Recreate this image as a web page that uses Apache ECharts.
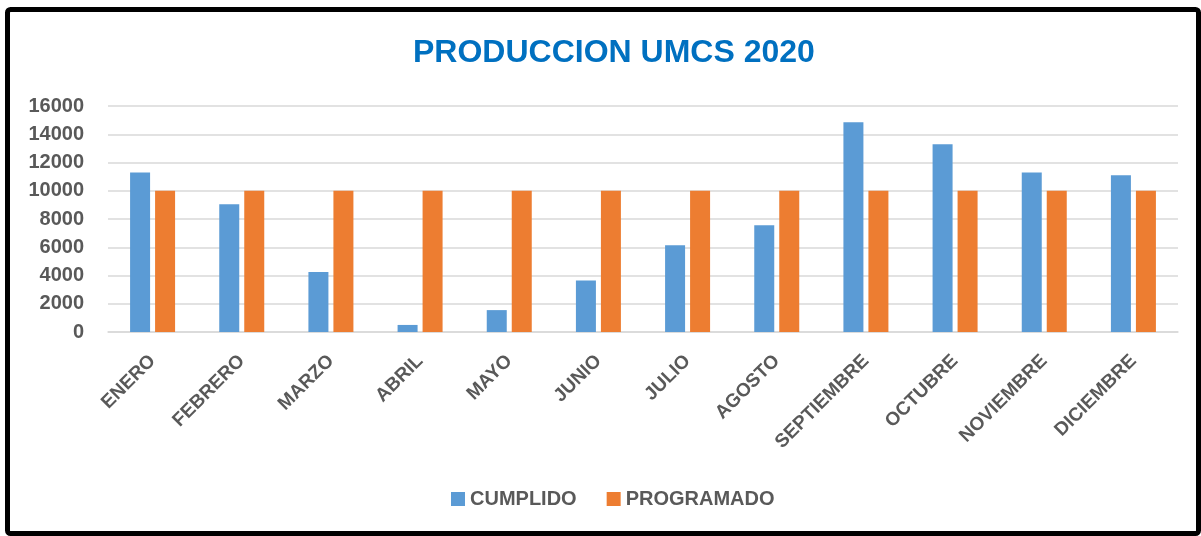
<!DOCTYPE html>
<html>
<head>
<meta charset="utf-8">
<title>PRODUCCION UMCS 2020</title>
<script src="https://cdn.jsdelivr.net/npm/echarts@6/dist/echarts.min.js"></script>
<style>
  html, body { margin: 0; padding: 0; background: #fff; }
  #chart { width: 1201px; height: 536px; }
</style>
</head>
<body>
<div id="chart"></div>
<script>
// meses
var meses = ['ENERO', 'FEBRERO', 'MARZO', 'ABRIL', 'MAYO', 'JUNIO', 'JULIO', 'AGOSTO', 'SEPTIEMBRE', 'OCTUBRE', 'NOVIEMBRE', 'DICIEMBRE'];
// valores
var cumplido = [11300, 9050, 4250, 500, 1550, 3650, 6150, 7550, 14850, 13300, 11300, 11100];
var programado = [10000, 10000, 10000, 10000, 10000, 10000, 10000, 10000, 10000, 10000, 10000, 10000];

var gris = '#595959';
var fuente = '"Liberation Sans", Arial, sans-serif';

var chart = echarts.init(document.getElementById('chart'));

chart.setOption({
  animation: false,
  textStyle: { fontFamily: fuente },
  color: ['#5B9BD5', '#ED7D31'],
  title: {
    text: 'PRODUCCION UMCS 2020',
    left: 408,
    top: 32,
    textStyle: { color: '#0070C0', fontSize: 32, fontWeight: 'bold', fontFamily: fuente }
  },
  // marco negro del grafico
  graphic: [{
    type: 'rect',
    left: 5,
    top: 7,
    shape: { width: 1191, height: 524, r: 3 },
    style: { fill: 'none', stroke: '#000', lineWidth: 5 },
    silent: true
  }],
  legend: {
    data: ['CUMPLIDO', 'PROGRAMADO'],
    left: 446,
    top: 484,
    icon: 'rect',
    itemWidth: 14,
    itemHeight: 14,
    itemGap: 30,
    textStyle: { color: gris, fontSize: 20, fontWeight: 'bold', fontFamily: fuente }
  },
  grid: {
    left: 108,
    right: 23,
    top: 106,
    bottom: 204
  },
  xAxis: {
    type: 'category',
    data: meses,
    axisTick: { show: false },
    axisLine: { lineStyle: { color: '#D9D9D9', width: 1.5 } },
    axisLabel: {
      rotate: 45,
      margin: 26,
      color: gris,
      fontSize: 19,
      fontWeight: 'bold',
      fontFamily: fuente
    }
  },
  yAxis: {
    type: 'value',
    min: 0,
    max: 16000,
    interval: 2000,
    axisLine: { show: false },
    axisTick: { show: false },
    splitLine: { lineStyle: { color: '#D9D9D9', width: 1.5 } },
    axisLabel: {
      margin: 24,
      color: gris,
      fontSize: 20,
      fontWeight: 'bold',
      fontFamily: fuente,
      formatter: function (v) { return String(v); }
    }
  },
  series: [{
    name: 'CUMPLIDO',
    type: 'bar',
    barWidth: 20,
    barGap: '25%',
    data: cumplido
  }, {
    name: 'PROGRAMADO',
    type: 'bar',
    barWidth: 20,
    data: programado
  }]
});
</script>
</body>
</html>
